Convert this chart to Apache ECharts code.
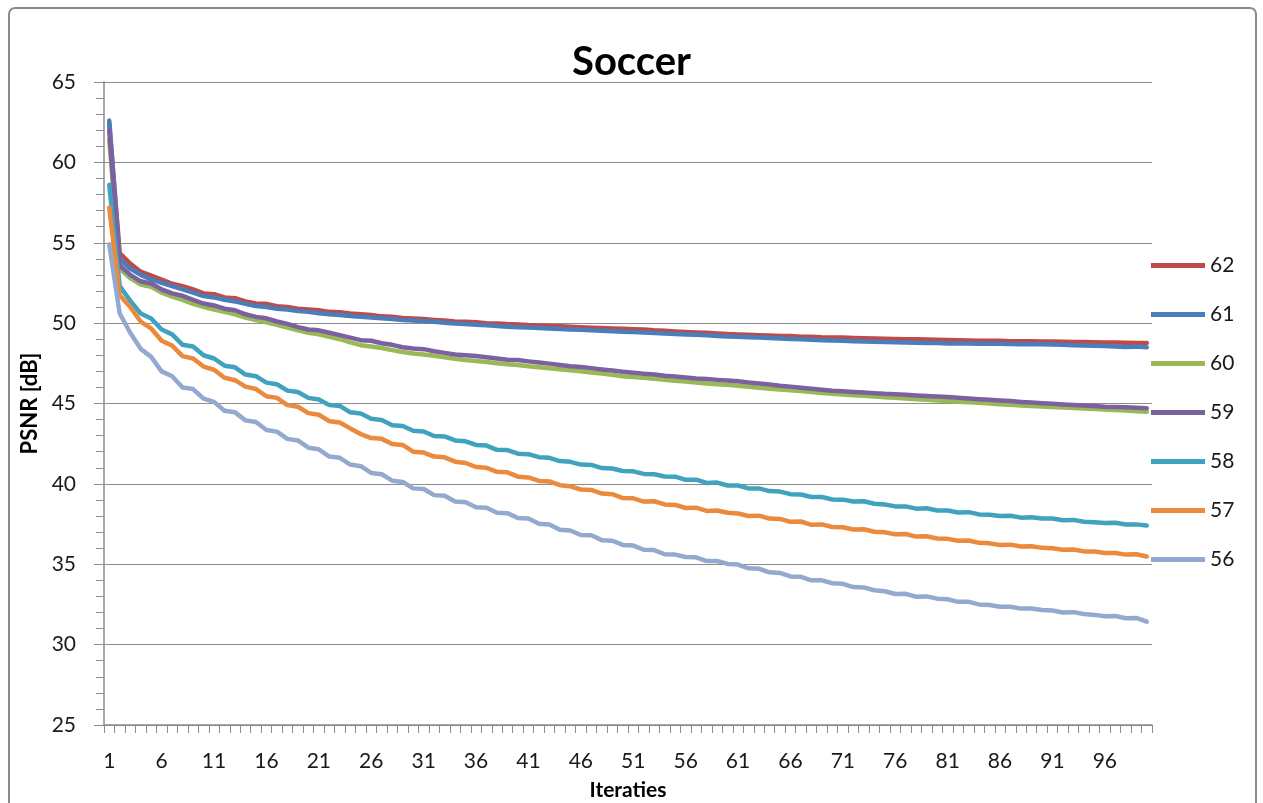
<!DOCTYPE html>
<html>
<head>
<meta charset="utf-8">
<title>Soccer</title>
<script src="https://cdn.jsdelivr.net/npm/echarts@6/dist/echarts.min.js"></script>
<style>
  html, body { margin: 0; padding: 0; background: #ffffff; }
  #chart { width: 1263px; height: 803px; }
</style>
</head>
<body>
<div id="chart"></div>
<script>
// Iteration numbers 1..100
const iterations = [
  1,2,3,4,5,6,7,8,9,10,11,12,13,14,15,16,17,18,19,20,
  21,22,23,24,25,26,27,28,29,30,31,32,33,34,35,36,37,38,39,40,
  41,42,43,44,45,46,47,48,49,50,51,52,53,54,55,56,57,58,59,60,
  61,62,63,64,65,66,67,68,69,70,71,72,73,74,75,76,77,78,79,80,
  81,82,83,84,85,86,87,88,89,90,91,92,93,94,95,96,97,98,99,100
];

const seriesNames = ['62', '61', '60', '59', '58', '57', '56'];

// PSNR [dB] per iteration
const psnr62 = [
  62.4,54.35,53.7,53.2,52.95,52.7,52.45,52.3,52.1,51.85,
  51.8,51.6,51.55,51.35,51.22,51.2,51.05,51.0,50.9,50.85,
  50.8,50.7,50.68,50.6,50.56,50.5,50.42,50.4,50.32,50.29,
  50.25,50.2,50.16,50.1,50.08,50.05,50.0,49.98,49.94,49.92,
  49.88,49.86,49.82,49.8,49.77,49.74,49.72,49.7,49.67,49.65,
  49.62,49.6,49.55,49.52,49.48,49.45,49.42,49.4,49.36,49.32,
  49.3,49.28,49.25,49.23,49.2,49.2,49.16,49.15,49.12,49.11,
  49.1,49.08,49.06,49.05,49.03,49.02,49.0,48.99,48.98,48.96,
  48.95,48.94,48.92,48.91,48.9,48.9,48.88,48.88,48.87,48.86,
  48.85,48.84,48.83,48.82,48.81,48.8,48.79,48.78,48.77,48.76
];
const psnr61 = [
  62.6,54.0,53.4,53.0,52.72,52.5,52.3,52.1,51.9,51.68,
  51.6,51.45,51.35,51.2,51.06,51.0,50.9,50.85,50.75,50.7,
  50.62,50.55,50.5,50.45,50.39,50.35,50.3,50.26,50.2,50.17,
  50.12,50.08,50.02,49.98,49.94,49.9,49.86,49.82,49.78,49.75,
  49.72,49.7,49.66,49.64,49.61,49.58,49.55,49.52,49.5,49.47,
  49.44,49.42,49.38,49.36,49.33,49.3,49.27,49.24,49.2,49.17,
  49.15,49.12,49.1,49.07,49.04,49.02,48.99,48.97,48.94,48.92,
  48.9,48.88,48.86,48.84,48.83,48.81,48.8,48.78,48.77,48.76,
  48.74,48.73,48.74,48.72,48.71,48.72,48.7,48.69,48.7,48.69,
  48.67,48.65,48.63,48.61,48.59,48.57,48.55,48.52,48.55,48.5
];
const psnr60 = [
  61.4,53.4,52.8,52.4,52.26,51.9,51.65,51.45,51.2,51.02,
  50.85,50.7,50.55,50.35,50.19,50.05,49.9,49.72,49.55,49.4,
  49.3,49.15,49.0,48.8,48.63,48.55,48.45,48.32,48.2,48.11,
  48.05,47.97,47.88,47.78,47.7,47.65,47.58,47.5,47.44,47.39,
  47.32,47.26,47.2,47.13,47.07,47.0,46.93,46.86,46.78,46.7,
  46.65,46.6,46.54,46.48,46.42,46.37,46.3,46.25,46.2,46.16,
  46.1,46.04,45.98,45.92,45.87,45.82,45.77,45.71,45.65,45.6,
  45.56,45.52,45.48,45.43,45.39,45.35,45.31,45.27,45.23,45.19,
  45.15,45.11,45.07,45.04,45.0,44.96,44.92,44.88,44.85,44.81,
  44.78,44.75,44.72,44.69,44.66,44.63,44.6,44.56,44.52,44.48
];
const psnr59 = [
  62.0,53.6,53.0,52.6,52.47,52.1,51.85,51.7,51.45,51.22,
  51.1,50.9,50.8,50.55,50.39,50.3,50.1,49.95,49.75,49.6,
  49.55,49.4,49.25,49.1,48.94,48.9,48.75,48.65,48.5,48.42,
  48.38,48.25,48.15,48.05,48.0,47.95,47.88,47.8,47.72,47.7,
  47.62,47.55,47.48,47.4,47.32,47.27,47.2,47.12,47.05,46.97,
  46.92,46.85,46.8,46.72,46.68,46.62,46.56,46.52,46.47,46.43,
  46.38,46.3,46.25,46.18,46.1,46.05,45.98,45.92,45.85,45.79,
  45.76,45.72,45.68,45.64,45.6,45.58,45.54,45.5,45.47,45.44,
  45.4,45.36,45.31,45.27,45.23,45.19,45.15,45.1,45.06,45.02,
  44.98,44.94,44.9,44.87,44.84,44.8,44.79,44.76,44.74,44.71
];
const psnr58 = [
  58.6,52.3,51.4,50.6,50.29,49.6,49.3,48.65,48.55,48.0,
  47.8,47.35,47.25,46.8,46.7,46.3,46.2,45.8,45.72,45.35,
  45.25,44.9,44.85,44.45,44.38,44.05,43.98,43.65,43.6,43.3,
  43.26,42.98,42.95,42.7,42.65,42.42,42.38,42.12,42.1,41.88,
  41.85,41.66,41.62,41.42,41.37,41.2,41.18,40.98,40.96,40.8,
  40.78,40.62,40.6,40.46,40.45,40.25,40.26,40.06,40.08,39.9,
  39.9,39.72,39.72,39.55,39.52,39.36,39.34,39.18,39.18,39.03,
  39.02,38.9,38.92,38.76,38.72,38.6,38.6,38.46,38.48,38.34,
  38.34,38.22,38.24,38.1,38.08,38.0,38.02,37.9,37.93,37.84,
  37.84,37.74,37.76,37.64,37.61,37.56,37.58,37.47,37.48,37.41
];
const psnr57 = [
  57.2,51.74,51.0,50.1,49.67,48.9,48.6,47.95,47.8,47.3,
  47.1,46.6,46.45,46.05,45.9,45.45,45.35,44.9,44.8,44.4,
  44.3,43.9,43.82,43.45,43.1,42.85,42.8,42.48,42.42,42.0,
  41.95,41.7,41.65,41.38,41.3,41.05,41.0,40.75,40.72,40.45,
  40.4,40.18,40.15,39.92,39.85,39.65,39.62,39.4,39.36,39.12,
  39.1,38.9,38.92,38.72,38.69,38.5,38.52,38.32,38.34,38.2,
  38.16,38.0,38.02,37.84,37.82,37.64,37.66,37.45,37.48,37.32,
  37.3,37.16,37.18,37.02,36.99,36.86,36.88,36.72,36.74,36.6,
  36.58,36.46,36.48,36.33,36.3,36.2,36.22,36.1,36.12,36.02,
  36.0,35.9,35.92,35.8,35.79,35.7,35.7,35.6,35.62,35.48
];
const psnr56 = [
  54.9,50.6,49.4,48.4,47.9,47.0,46.7,46.0,45.9,45.3,
  45.1,44.55,44.45,43.95,43.85,43.35,43.25,42.8,42.7,42.25,
  42.15,41.7,41.62,41.2,41.1,40.68,40.6,40.2,40.12,39.72,
  39.68,39.3,39.26,38.9,38.86,38.55,38.52,38.2,38.18,37.88,
  37.84,37.52,37.48,37.15,37.1,36.82,36.8,36.5,36.46,36.2,
  36.16,35.9,35.88,35.62,35.6,35.45,35.43,35.2,35.2,35.02,
  34.98,34.75,34.72,34.5,34.46,34.24,34.22,34.0,34.0,33.82,
  33.78,33.58,33.56,33.38,33.32,33.15,33.16,32.98,33.0,32.86,
  32.82,32.66,32.66,32.5,32.47,32.36,32.36,32.24,32.25,32.15,
  32.12,32.0,32.02,31.9,31.85,31.76,31.78,31.64,31.66,31.43
];

const yTicks = [25, 30, 35, 40, 45, 50, 55, 60, 65];

const seriesColors = ['#BE4B48', '#4A7EBB', '#98B954', '#7D60A0', '#3FA3BF', '#EB8A3D', '#93A9CF'];
const seriesData = [psnr62, psnr61, psnr60, psnr59, psnr58, psnr57, psnr56];

const FONT = 'Lato, "Open Sans", sans-serif';
const GRID_GRAY = '#8c8c8c';

const chart = echarts.init(document.getElementById('chart'), null, { renderer: 'canvas' });

chart.setOption({
  backgroundColor: '#ffffff',
  animation: false,
  graphic: [{
    type: 'rect',
    shape: { x: 9, y: 8, width: 1247, height: 830, r: 6 },
    style: { fill: 'none', stroke: '#8a8a8a', lineWidth: 2 },
    silent: true
  }],
  title: {
    text: 'Soccer',
    left: 'center',
    top: 37,
    textStyle: { fontFamily: FONT, fontWeight: 'bold', fontSize: 40, color: '#000000' }
  },
  legend: {
    orient: 'vertical',
    left: 1146,
    top: 250,
    itemWidth: 54,
    itemHeight: 5,
    itemGap: 28,
    icon: 'rect',
    data: seriesNames,
    textStyle: { fontFamily: FONT, fontSize: 21, color: '#1a1a1a', lineHeight: 20 }
  },
  grid: { left: 104, right: 111, top: 82, bottom: 78, containLabel: false, outerBoundsMode: 'none' },
  xAxis: {
    type: 'category',
    data: iterations,
    boundaryGap: true,
    name: 'Iteraties',
    nameLocation: 'middle',
    nameGap: 55,
    nameTextStyle: { fontFamily: FONT, fontWeight: 'bold', fontSize: 21, color: '#000000' },
    axisLine: { lineStyle: { color: GRID_GRAY, width: 1.5 } },
    axisTick: { show: true, interval: 0, length: 8, lineStyle: { color: GRID_GRAY } },
    axisLabel: { interval: 4, margin: 26, fontFamily: FONT, fontSize: 21, color: '#1a1a1a' },
    splitLine: { show: false }
  },
  yAxis: {
    type: 'value',
    min: yTicks[0],
    max: yTicks[yTicks.length - 1],
    interval: 5,
    name: 'PSNR [dB]',
    nameLocation: 'middle',
    nameGap: 58,
    nameRotate: 90,
    nameTextStyle: { fontFamily: FONT, fontWeight: 'bold', fontSize: 22, color: '#000000' },
    axisLine: { show: true, lineStyle: { color: GRID_GRAY, width: 1.5 } },
    axisTick: { show: true, length: 10, lineStyle: { color: GRID_GRAY } },
    minorTick: { show: true, splitNumber: 5, length: 8, lineStyle: { color: GRID_GRAY } },
    axisLabel: { margin: 28, fontFamily: FONT, fontSize: 21, color: '#1a1a1a' },
    splitLine: { show: true, lineStyle: { color: GRID_GRAY, width: 1.2 } }
  },
  series: seriesNames.map((name, k) => ({
    name: name,
    type: 'line',
    data: seriesData[k],
    showSymbol: false,
    symbol: 'none',
    color: seriesColors[k],
    lineStyle: { width: 4.5, color: seriesColors[k], join: 'round', cap: 'round' },
    z: 2 + k
  }))
});
</script>
</body>
</html>
